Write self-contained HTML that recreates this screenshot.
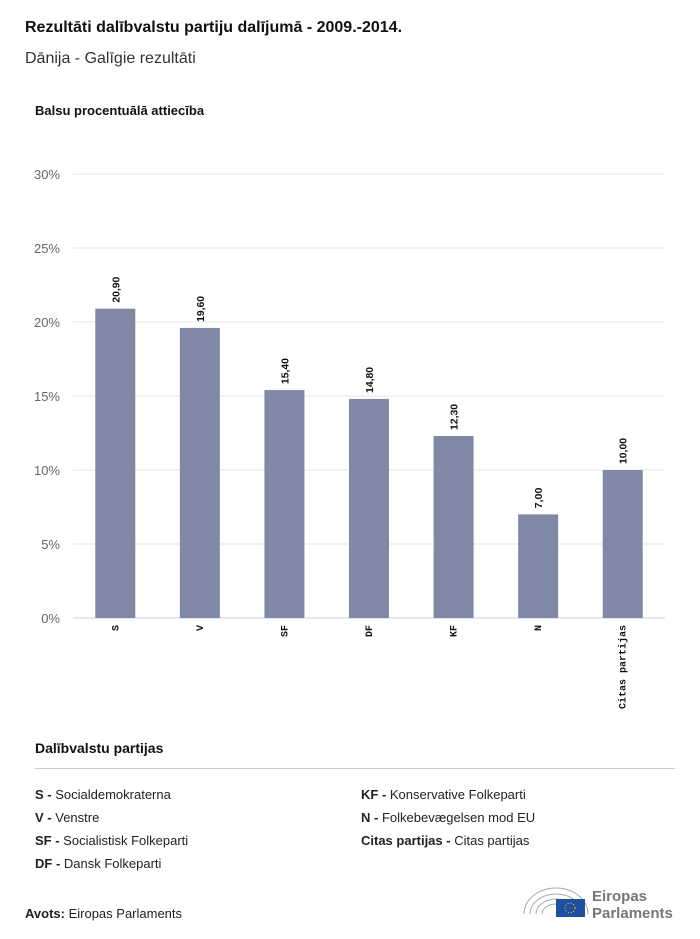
<!DOCTYPE html>
<html><head><meta charset="utf-8"><style>
body{margin:0;width:700px;height:939px;background:#fff;font-family:"Liberation Sans",sans-serif;color:#111;position:relative;overflow:hidden}
.abs{position:absolute;white-space:nowrap}
.leg{font-size:13px;color:#222}
.leg b{font-weight:bold}
</style></head><body>
<div class="abs" style="left:25px;top:19px;font-size:16px;font-weight:bold">Rezultāti dalībvalstu partiju dalījumā - 2009.-2014.</div>
<div class="abs" style="left:25px;top:50px;font-size:16px;color:#333">Dānija - Galīgie rezultāti</div>
<div class="abs" style="left:35px;top:103px;font-size:13px;font-weight:bold">Balsu procentuālā attiecība</div>
<svg class="abs" style="left:0;top:0" width="700" height="730">
<g id="g"></g></svg>
<div class="abs" style="left:35px;top:740px;font-size:14px;font-weight:bold">Dalībvalstu partijas</div>
<div class="abs" style="left:35px;top:768px;width:640px;height:1px;background:#ccc"></div>
<div class="abs leg" style="left:35px;top:787px"><b>S - </b>Socialdemokraterna</div>
<div class="abs leg" style="left:35px;top:810px"><b>V - </b>Venstre</div>
<div class="abs leg" style="left:35px;top:833px"><b>SF - </b>Socialistisk Folkeparti</div>
<div class="abs leg" style="left:35px;top:856px"><b>DF - </b>Dansk Folkeparti</div>
<div class="abs leg" style="left:361px;top:787px"><b>KF - </b>Konservative Folkeparti</div>
<div class="abs leg" style="left:361px;top:810px"><b>N - </b>Folkebevægelsen mod EU</div>
<div class="abs leg" style="left:361px;top:833px"><b>Citas partijas - </b>Citas partijas</div>
<div class="abs leg" style="left:25px;top:906px"><b>Avots:</b> Eiropas Parlaments</div>
<svg class="abs" style="left:520px;top:882px" width="160" height="40">
<g fill="none" stroke="#aaa" stroke-width="1"><path d="M4 32 A32 26 0 0 1 68 32"/><path d="M10 32 A26 20 0 0 1 62 32"/><path d="M16 32 A20 15 0 0 1 56 32"/><path d="M22 32 A14 10 0 0 1 50 32"/></g>
<rect x="36" y="17" width="29" height="18" fill="#1f4fa0"/>
<circle cx="50" cy="26" r="5" fill="none" stroke="#ffdd00" stroke-dasharray="1 2"/>
<text x="72" y="19" font-size="15" font-weight="bold" fill="#777" font-family="Liberation Sans">Eiropas</text>
<text x="72" y="36" font-size="15" font-weight="bold" fill="#777" font-family="Liberation Sans">Parlaments</text>
</svg>
<script>
const categories=["S","V","SF","DF","KF","N","Citas partijas"];
const values=[20.9,19.6,15.4,14.8,12.3,7.0,10.0];
const valueLabels=["20,90","19,60","15,40","14,80","12,30","7,00","10,00"];
const yTicks=[0,5,10,15,20,25,30];
const X0=73,X1=665,Y0=618,Y1=174,YMAX=30;
const bw=(X1-X0)/categories.length;
const y=v=>Y0-(v/YMAX)*(Y0-Y1);
const x=i=>X0+bw*(i+0.5);
const g=document.getElementById('g');
const NS='http://www.w3.org/2000/svg';
function mk(t,a){const e=document.createElementNS(NS,t);for(const k in a)e.setAttribute(k,a[k]);g.appendChild(e);return e;}
yTicks.forEach(t=>{
 const l=mk('line',{x1:X0,x2:X1,y1:y(t),y2:y(t),stroke:t===0?'#c5d3e8':'#e6e6e6','stroke-width':1});
 
 
 const tx=mk('text',{x:60,y:y(t)+5,'text-anchor':'end','font-size':13,fill:'#666','font-family':'Liberation Sans'});
 tx.textContent=t+'%';
 
 
});
categories.forEach((c,i)=>{
 const r=mk('rect',{x:x(i)-20,y:y(values[i]),width:40,height:Y0-y(values[i]),fill:'#7f89a5'});
 
 
 const vt=mk('text',{transform:`translate(${x(i)+4},${y(values[i])-6}) rotate(-90)`,'font-size':10,'font-weight':'bold',fill:'#111','font-family':'Liberation Sans','textLength':valueLabels[i].length*5.2,'lengthAdjust':'spacingAndGlyphs'});
 vt.textContent=valueLabels[i];
 
 
 const ct=mk('text',{transform:`translate(${x(i)+3},${Y0+7}) rotate(-90)`,'text-anchor':'end','font-size':10,'font-weight':'bold',fill:'#111','font-family':'Liberation Mono'});
 ct.textContent=c;
 
 
});
</script>
</body></html>
